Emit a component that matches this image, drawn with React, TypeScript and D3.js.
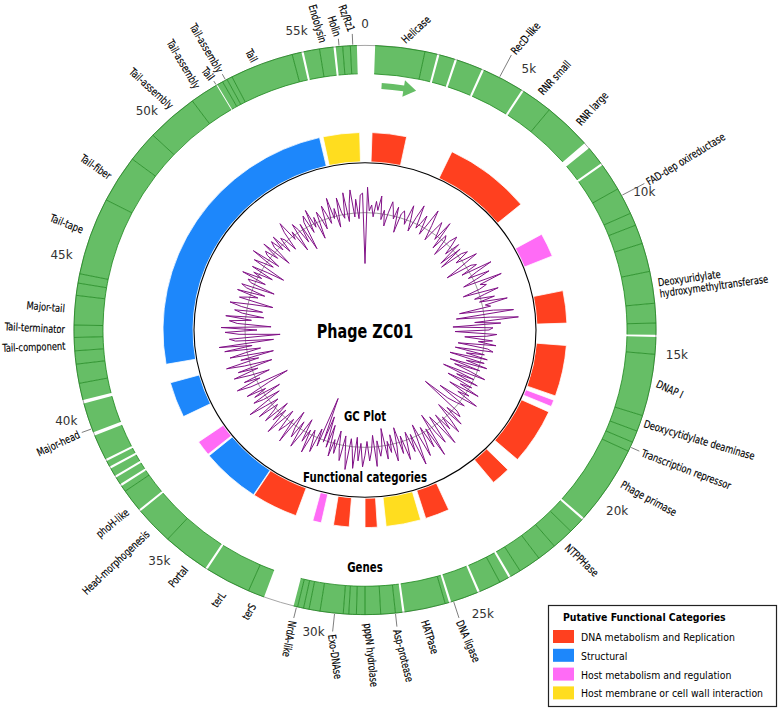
import React from "react";
import * as d3 from "d3";

// ---------- DATA ----------
const genomeLength = 57000;
const tickValues = [0, 5000, 10000, 15000, 20000, 25000, 30000, 35000, 40000, 45000, 50000, 55000];
const tickLabels = ["0", "5k", "10k", "15k", "20k", "25k", "30k", "35k", "40k", "45k", "50k", "55k"];

const geneStart = [317, 1884, 2347, 2917, 3819, 5228, 6222, 7964, 8648, 9547, 10418, 10830, 11447, 12366, 13395, 14028, 14475, 15026, 17021, 17543, 17923, 18239, 20855, 21375, 22071, 22689, 23401, 23816, 24130, 24893, 25843, 25966, 27331, 27549, 28009, 28500, 28769, 29006, 29180, 29909, 30257, 30431, 30621, 31714, 32236, 33760, 35260, 36562, 37287, 37560, 37877, 38209, 38478, 39417, 40493, 41039, 41657, 42084, 42512, 42908, 43858, 44254, 44555, 47056, 48592, 49590, 51237, 52170, 52361, 52519, 52694, 54705, 55072, 55575, 56085, 56303, 56541];
const geneEnd = [1884, 2277, 2847, 3749, 5158, 6222, 7758, 8578, 9547, 10418, 10830, 11447, 12366, 13395, 14028, 14405, 15026, 17021, 17543, 17923, 18239, 20785, 21375, 22071, 22689, 23401, 23746, 24130, 24823, 25773, 25966, 27261, 27549, 28009, 28500, 28769, 29006, 29180, 29909, 30257, 30431, 30621, 30748, 32236, 33690, 35260, 36492, 37287, 37490, 37807, 38139, 38408, 39307, 40383, 41039, 41657, 42084, 42512, 42908, 43858, 44254, 44555, 47056, 48592, 49590, 51237, 52140, 52361, 52519, 52694, 54705, 55002, 55575, 56015, 56303, 56541, 56747];

const categoryNames = ["DNA metabolism and Replication", "Structural", "Host metabolism and regulation", "Host membrane or cell wall interaction"];
const categoryColors = ["#ff401f", "#1d87fb", "#ff6bf6", "#ffdd1f"];
const catStart = [317, 4037, 9658, 12429, 14962, 17543, 18129, 21375, 24620, 25966, 27945, 29212, 30479, 31666, 33803, 36574, 38633, 41166, 55099];
const catEnd = [1884, 7996, 10766, 13933, 17337, 17860, 20741, 22245, 25729, 27549, 28500, 29924, 30874, 33771, 36495, 37287, 40295, 54941, 56761];
const catType = [0, 0, 2, 0, 0, 2, 0, 0, 0, 3, 0, 0, 2, 0, 1, 2, 1, 1, 3];

const labelNames = ["Helicase", "RecD-like", "RNR small", "RNR large", "FAD-dep oxireductase", "Deoxyuridylate|hydroxymethyltransferase", "DNAP I", "Deoxycytidylate deaminase", "Transcription repressor", "Phage primase", "NTPPHase", "DNA ligase", "HATPase", "Asp-protease", "pppN hydrolase", "Exo-DNAse", "NrdA-like", "terS", "terL", "Portal", "Head-morphogenesis", "phoH-like", "Major-head", "Tail-component", "Tail-terminator", "Major-tail", "Tail-tape", "Tail-fiber", "Tail-assembly", "Tail-assembly", "Tail", "Tail-assembly", "Tail", "Endolysin", "Holin", "Rz/Rz1"];
const labelPos = [1156, 4354, 5668, 7157, 9785, 12745, 15912, 17226, 18097, 19221, 21770, 25697, 26694, 27549, 28405, 29449, 30653, 31951, 32917, 34278, 35862, 36764, 39535, 42274, 42781, 43430, 45916, 47768, 50634, 51616, 52138, 52470, 53547, 55732, 56191, 56619];

// GC content deviation around the mean, one value per window
const gcDeviation = [
  -52, 26, 2, 8, -4, 12, 3, 18, -6, 4,
  -12, 2, 14, 6, -3, 10, -16, 4, 8, 2,
  -5, 16, 3, -10, 6, 20, -4, 2, 12, -8,
  4, 22, 6, -10, 2, 14, 5, -4, 18, -12,
  6, 2, -16, 4, 12, 3, -8, 8, -18, 6,
  -20, 4, 10, -6, 2, 16, -4, -22, 5, 10,
  -8, 24, 6, -4, 18, 3, -12, 28, 4, 10,
  2, -16, 20, 5, -6, 14, -2, 26, 3, 8,
  -24, 10, 30, -28, 6, 34, -10, 16, -32, 8,
  4, -30, 12, 2, -20, 8, -6, 12, -26, 4,
  10, -28, 2, -16, 6, -32, 4, -14, 8, -30,
  2, -24, -6, 10, -34, 0, -18, 6, -26, 2,
  -10, 12, -20, 4, -8, 16, -4, -26, 6, -2,
  -12, -40, 4, 10, -6, 16, -14, 6, 20, -2,
  12, -8, 26, 2, -10, 20, 6, -16, 30, -2,
  18, -6, 10, 24, -12, 6, 30, -4, 14, -8,
  4, 20, -6, 12, -16, 4, 18, -10, 8, -4,
  14, -18, 2, 10, -6, 20, -12, 4, 14, -6,
  8, 20, -4, 14, -10, 22, 2, -8, 24, 6,
  -10, 16, 4, -14, 10, -4, 14, -18, 6, -26,
  2, -45, 8, -10, 16, 2, -6, 20, -4, 10,
  -14, 4, 20, -8, 12, 2, -16, 22, -4, 6,
  14, -10, 4, 22, -6, 10, -12, 16, 2, -4,
  18, -8, 6, 24, -14, 4, 14, -18, 10, -4,
  16, -10, -32, 8, 22, -4, 12, -16, 4, 20,
  -6, 14, -22, 6, 24, -10, 8, -26, 18, 2,
  -14, 22, -6, 27, -28, 10, 16, -35, 6, 20,
  -12, 24, -26, 8, 16, -6, 20, -18, 4, 12,
  -16, 6, 18, -4, -25, 10, 2, -8, 14, -14,
  6, 12, -22, 4, 8, -10, 16, -4, 6, -14,
  10, -6, -24, 12, 2, -8, 18, -12, 4, 8,
  -6, 14, -18, 4, 10, -4, 12, -10, 6, 2,
  -12, 8, 18, -4, 4, -20, 10, 2, -14, 6,
  -24, 6, 12, -8, 16, -4, 6, -18, 10, 2,
  -10, 14, 4, -6, 20, -2, 8, -12, 18, 2,
  -4, 22, -8, 10, 24, -4, 14, -6, 18, 20,
];

// ---------- LAYOUT ----------
const labelRadius = [298, 320, 299, 300, 320, 297, 297, 295, 304, 301, 299, 312, 303, 308, 300, 313, 306, 302, 304, 302, 300, 301, 305, 300, 300, 301, 300, 299, 299, 299, 299, 301, 296, 297, 302, 306];
const labelRotation = [-43, -50, -48, -48, -32, -8, 25, 17, 21, 29, 44, 67, 72, 76, 84, 82, 100, -60, -55, -50, -44, -40, -25, -2, 3, 5, 22, 35, 43, 60, 52, 60, 62, 74, 72, 70];
const labelLeader = [0, 1, 0, 0, 1, 0, 0, 0, 1, 0, 0, 1, 0, 1, 0, 1, 1, 0, 0, 0, 0, 0, 1, 0, 0, 0, 0, 0, 0, 0, 1, 1, 0, 0, 1, 1];
const labelEndAnchored = labelNames.map((_, i) => i >= 17);

const W = 778, H = 709;
const CX = 365, CY = 330, SY = 0.978;
const R_GENE_IN = 262, R_GENE_OUT = 291;
const R_CAT_IN = 172, R_CAT_OUT = 202;
const R_INNER = 171, R_GC = 120;
const GREEN = "#66be66", DARKGREEN = "#1c861c";
const FONT = "'DejaVu Sans Condensed', 'DejaVu Sans', sans-serif";
const NARROW = 0.84;

const ang = d3.scaleLinear().domain([0, genomeLength]).range([0, 2 * Math.PI]);
const pt = (a: number, r: number): [number, number] => [r * Math.sin(a), -r * Math.cos(a)];
const deg = (a: number) => (a * Math.PI) / 180;

export default function App() {
  const arc = d3.arc<any>();
  const genes = geneStart.map((s, i) =>
    arc({ innerRadius: R_GENE_IN, outerRadius: R_GENE_OUT, startAngle: ang(s), endAngle: ang(geneEnd[i]) } as any) as string
  );
  const p = (a: number, r: number) => pt(a, r).join(",");
  const edgePaths = geneStart.map((s, i) => {
    const a0 = ang(s), a1 = ang(geneEnd[i]);
    const lg = a1 - a0 > Math.PI ? 1 : 0;
    return `M${p(a0, R_GENE_OUT)} A${R_GENE_OUT},${R_GENE_OUT} 0 ${lg} 1 ${p(a1, R_GENE_OUT)} M${p(a0, R_GENE_IN)} A${R_GENE_IN},${R_GENE_IN} 0 ${lg} 1 ${p(a1, R_GENE_IN)}`;
  });
  const boundaryAngles = geneEnd.filter((e, i) => i < geneStart.length - 1 && geneStart[i + 1] === e).map((e) => ang(e));
  const cats = catStart.map((s, i) =>
    arc({ innerRadius: R_CAT_IN, outerRadius: R_CAT_OUT, startAngle: ang(s), endAngle: ang(catEnd[i]) } as any) as string
  );
  const gcLine = d3
    .lineRadial<number>()
    .angle((_, i) => (i / gcDeviation.length) * 2 * Math.PI)
    .radius((v) => R_GC + v)
    .curve(d3.curveLinearClosed)(gcDeviation) as string;

  const a0 = deg(3.8), a1 = deg(8.9), a2 = deg(11.8);
  const arrowPath = `M${p(a0, 253)} A253,253 0 0 1 ${p(a1, 253)} L${p(a1, 258.5)} L${p(a2, 250)} L${p(a1, 241.5)} L${p(a1, 247)} A247,247 0 0 0 ${p(a0, 247)} Z`;

  const title = (txt: string, y: number, size: number) => (
    <text transform={`translate(0,${y}) scale(${NARROW},1)`} textAnchor="middle" dominantBaseline="central" fontFamily={FONT} fontWeight="bold" fontSize={size} fill="#000">{txt}</text>
  );

  return (
    <svg width={W} height={H} style={{ display: "block", position: "absolute", left: 0, top: 0, background: "#fff" }}>
      <g transform={`translate(${CX},${CY}) scale(1,${SY})`}>
        <circle r={R_GENE_OUT} fill="none" stroke="#9a9a9a" strokeWidth={0.9} />
        {genes.map((d, i) => (
          <path key={"g" + i} d={d} fill={GREEN} stroke="none" />
        ))}
        {edgePaths.map((d, i) => (
          <path key={"e" + i} d={d} fill="none" stroke={DARKGREEN} strokeWidth={0.8} />
        ))}
        {boundaryAngles.map((a, i) => {
          const [x1, y1] = pt(a, R_GENE_IN);
          const [x2, y2] = pt(a, R_GENE_OUT);
          return <line key={"b" + i} x1={x1} y1={y1} x2={x2} y2={y2} stroke={DARKGREEN} strokeWidth={0.8} />;
        })}
        <path d={arrowPath} fill={GREEN} />
        {cats.map((d, i) => (
          <path key={"c" + i} d={d} fill={categoryColors[catType[i]]} stroke="#fff" strokeWidth={0.8} />
        ))}
        <circle r={R_INNER} fill="#fff" stroke="#000" strokeWidth={1.1} />
        <circle r={R_GC} fill="none" stroke="#9a9a9a" strokeWidth={1} />
        <path d={gcLine} fill="none" stroke="#7f0f86" strokeWidth={1} />
        {title("Phage ZC01", 2, 19)}
        {title("GC Plot", 89, 13.5)}
        {title("Functional categories", 151, 13.5)}
        {title("Genes", 243, 13.5)}
        {tickValues.map((t, i) => {
          const [x, y] = pt(ang(t), 313);
          return (
            <text key={"t" + i} x={x} y={y} textAnchor="middle" dominantBaseline="central" fontFamily="'DejaVu Sans', sans-serif" fontSize={12} fill="#333">{tickLabels[i]}</text>
          );
        })}
        {labelNames.map((name, i) => {
          const a = ang(labelPos[i]);
          const r = labelRadius[i];
          const [x, y] = pt(a, r);
          const lines = name.split("|");
          let leader = null;
          if (labelLeader[i]) {
            const [x1, y1] = pt(a, R_GENE_OUT + 1);
            const [x2, y2] = pt(a, r - 3);
            leader = <line x1={x1} y1={y1} x2={x2} y2={y2} stroke="#444" strokeWidth={0.7} />;
          }
          return (
            <g key={"l" + i}>
              {leader}
              <text
                transform={`translate(${x},${y}) rotate(${labelRotation[i]}) scale(${NARROW},1)`}
                textAnchor={labelEndAnchored[i] ? "end" : "start"}
                dominantBaseline="central"
                fontFamily={FONT}
                fontSize={11}
                fill="#000"
                stroke="#000"
                strokeWidth={0.15}
              >
                {lines.map((ln, j) => (
                  <tspan key={j} x={0} dy={j === 0 ? 0 : 11.5}>{ln}</tspan>
                ))}
              </text>
            </g>
          );
        })}
      </g>
      <g>
        <rect x={548.5} y={605.5} width={228} height={101} fill="#fff" stroke="#222" strokeWidth={1.2} />
        <text x={563} y={617} dominantBaseline="central" fontFamily={FONT} fontWeight="bold" fontSize={10.4} fill="#000">Putative Functional Categories</text>
        {categoryNames.map((n, i) => (
          <g key={"lg" + i}>
            <rect x={553} y={630 + i * 18.8} width={21} height={13} fill={categoryColors[i]} />
            <text x={581} y={637 + i * 18.8} dominantBaseline="central" fontFamily={FONT} fontSize={10.4} fill="#000">{n}</text>
          </g>
        ))}
      </g>
    </svg>
  );
}
